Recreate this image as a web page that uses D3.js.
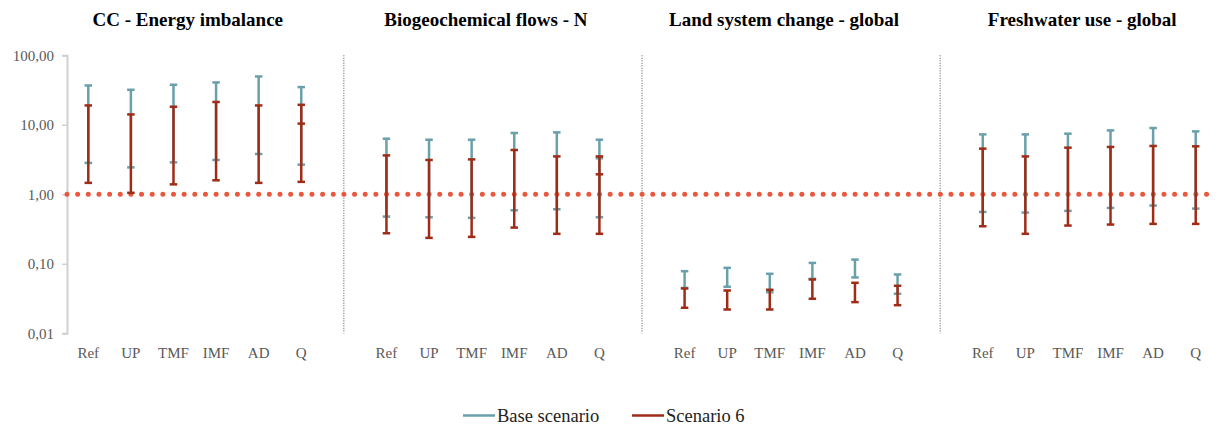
<!DOCTYPE html>
<html>
<head>
<meta charset="utf-8">
<script src="https://cdn.jsdelivr.net/npm/d3@7"></script>
<style>
  html, body { margin: 0; padding: 0; background: #fff; }
  svg { display: block; }
</style>
</head>
<body>
<svg id="chart" width="1218" height="428"></svg>
<script>
// ---- DATA ----
const panelTitles = ["CC - Energy imbalance", "Biogeochemical flows - N", "Land system change - global", "Freshwater use - global"];
const categories = ["Ref", "UP", "TMF", "IMF", "AD", "Q"];
const yTicks = [0.01, 0.1, 1, 10, 100];
const seriesNames = ["Base scenario", "Scenario 6"];
const boundary = 1;

// values per panel, in category order (4 panels x 6 categories)
const baseHigh = [36.8, 31.9, 37.7, 40.7, 49.6, 34.9,
                  6.31, 6.1, 6.1, 7.62, 7.78, 6.1,
                  0.0783, 0.0875, 0.0718, 0.103, 0.115, 0.0702,
                  7.28, 7.28, 7.45, 8.31, 8.99, 8.04];
const baseLow  = [2.83, 2.44, 2.88, 3.12, 3.8, 2.67,
                  0.478, 0.467, 0.458, 0.589, 0.609, 0.467,
                  0.045, 0.0468, 0.039, 0.0608, 0.0636, 0.0371,
                  0.558, 0.546, 0.577, 0.637, 0.689, 0.623];
const baseExtra = [null, null, null, null, null, null,
                   null, null, null, null, null, 3.3,
                   null, null, null, null, null, null,
                   null, null, null, null, null, null];
const s6High = [19.0, 14.1, 18.2, 21.3, 19.0, 19.4,
                3.63, 3.12, 3.18, 4.34, 3.51, 3.51,
                0.0442, 0.0413, 0.0423, 0.0595, 0.0533, 0.0483,
                4.54, 3.51, 4.69, 4.8, 4.96, 4.9];
const s6Low  = [1.46, 1.05, 1.39, 1.59, 1.46, 1.51,
                0.275, 0.236, 0.244, 0.332, 0.270, 0.270,
                0.0233, 0.0220, 0.0220, 0.0314, 0.0281, 0.0254,
                0.347, 0.27, 0.355, 0.367, 0.375, 0.375];
const s6Extra = [null, null, null, null, null, 10.4,
                 null, null, null, null, null, 1.94,
                 null, null, null, null, null, null,
                 null, null, null, null, null, null];

// ---- LAYOUT ----
const colors = { base: "#69a0aa", s6: "#9e2c17", line: "#e9573f", text: "#595959" };
const svg = d3.select("#chart");
const font = "'Liberation Serif', 'Times New Roman', serif";

// slots: 6 categories per panel, one empty slot between panels
const slots = [];
panelTitles.forEach((p, pi) => {
  categories.forEach((c, ci) => slots.push({ key: pi + "-" + c, panel: pi, cat: c, idx: pi * 6 + ci }));
  if (pi < panelTitles.length - 1) slots.push({ key: "gap" + pi, gap: true, panel: pi });
});

const x = d3.scaleBand().domain(slots.map(s => s.key)).range([67, 1217]).padding(0);
const y = d3.scaleLog().domain([0.01, 100]).range([333.3, 55.3]);

// y axis
const yAxis = d3.axisLeft(y).tickValues(yTicks).tickSize(5).tickPadding(8)
  .tickFormat(d => d3.format(".2f")(d).replace(".", ","));
const gy = svg.append("g").attr("transform", "translate(67,0)").call(yAxis);
gy.select(".domain").attr("stroke", "#d0d0d0").attr("stroke-width", 2);
gy.selectAll(".tick line").attr("stroke", "#d0d0d0").attr("stroke-width", 1.5);
gy.selectAll(".tick text").attr("fill", colors.text).attr("font-family", font).attr("font-size", 15);

// panel separators
svg.append("g").selectAll("line").data(slots.filter(s => s.gap)).join("line")
  .attr("x1", d => x(d.key) + x.bandwidth() / 2)
  .attr("x2", d => x(d.key) + x.bandwidth() / 2)
  .attr("y1", y(100)).attr("y2", y(0.01))
  .attr("stroke", "#555").attr("stroke-width", 1).attr("stroke-dasharray", "1,1.5");

// boundary dotted line
svg.append("line")
  .attr("x1", x.range()[0]).attr("x2", x.range()[1])
  .attr("y1", y(boundary)).attr("y2", y(boundary))
  .attr("stroke", colors.line).attr("stroke-width", 5)
  .attr("stroke-linecap", "round").attr("stroke-dasharray", "0,10.65");

// error bars
const dataSlots = slots.filter(s => !s.gap);
const capW = 7.5;
function drawSeries(low, high, extra, color) {
  const g = svg.append("g");
  const cx = d => x(d.key) + x.bandwidth() / 2;
  g.selectAll("line.v").data(dataSlots).join("line").attr("class", "v")
    .attr("x1", cx).attr("x2", cx)
    .attr("y1", d => y(low[d.idx])).attr("y2", d => y(high[d.idx]))
    .attr("stroke", color).attr("stroke-width", 2.5);
  const caps = [];
  dataSlots.forEach(d => {
    caps.push({ d, v: low[d.idx] });
    caps.push({ d, v: high[d.idx] });
    if (extra[d.idx] != null) caps.push({ d, v: extra[d.idx] });
  });
  g.selectAll("line.c").data(caps).join("line").attr("class", "c")
    .attr("x1", c => cx(c.d) - capW / 2).attr("x2", c => cx(c.d) + capW / 2)
    .attr("y1", c => y(c.v)).attr("y2", c => y(c.v))
    .attr("stroke", color).attr("stroke-width", 2.5);
}
drawSeries(baseLow, baseHigh, baseExtra, colors.base);
drawSeries(s6Low, s6High, s6Extra, colors.s6);

// category labels
svg.append("g").selectAll("text").data(dataSlots).join("text")
  .attr("x", d => x(d.key) + x.bandwidth() / 2).attr("y", 358)
  .attr("text-anchor", "middle").attr("fill", colors.text)
  .attr("font-family", font).attr("font-size", 15)
  .text(d => d.cat);

// panel titles
svg.append("g").selectAll("text").data(panelTitles).join("text")
  .attr("x", (t, i) => {
    const first = x(i + "-" + categories[0]);
    const last = x(i + "-" + categories[categories.length - 1]) + x.bandwidth();
    return (first + last) / 2 - 7;
  })
  .attr("y", 26).attr("text-anchor", "middle")
  .attr("font-family", font).attr("font-size", 19).attr("font-weight", "bold")
  .attr("fill", "#000").text(t => t);

// legend
const legend = svg.append("g");
const legendItems = [
  { name: seriesNames[0], color: colors.base, x: 463 },
  { name: seriesNames[1], color: colors.s6, x: 632 }
];
legendItems.forEach(it => {
  legend.append("line").attr("x1", it.x).attr("x2", it.x + 32)
    .attr("y1", 415.5).attr("y2", 415.5).attr("stroke", it.color).attr("stroke-width", 2.5);
  legend.append("text").attr("x", it.x + 34).attr("y", 422)
    .attr("font-family", font).attr("font-size", 18.5).attr("fill", "#222").text(it.name);
});
</script>
</body>
</html>
